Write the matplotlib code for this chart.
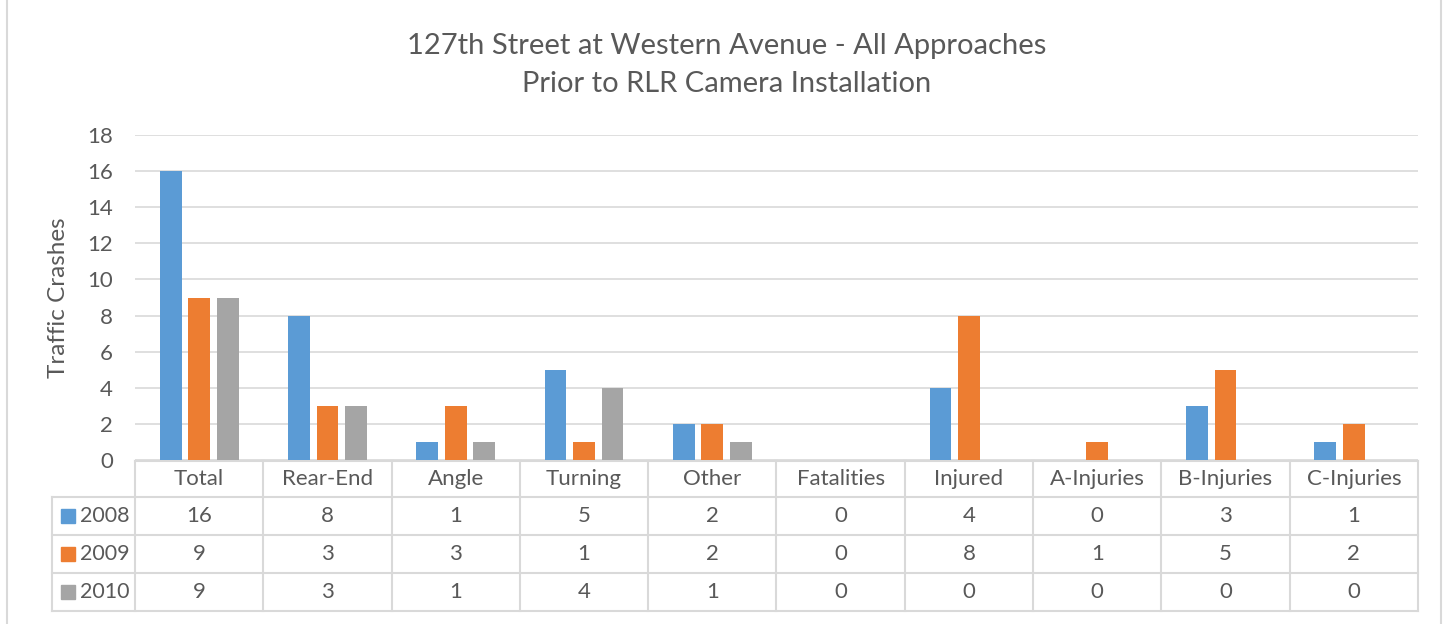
import numpy as np
import matplotlib.pyplot as plt
from matplotlib.lines import Line2D
from matplotlib.patches import Rectangle

categories = ["Total", "Rear-End", "Angle", "Turning", "Other", "Fatalities",
              "Injured", "A-Injuries", "B-Injuries", "C-Injuries"]
years = ["2008", "2009", "2010"]
crashes_2008 = [16, 8, 1, 5, 2, 0, 4, 0, 3, 1]
crashes_2009 = [9, 3, 3, 1, 2, 0, 8, 1, 5, 2]
crashes_2010 = [9, 3, 1, 4, 1, 0, 0, 0, 0, 0]
series = [crashes_2008, crashes_2009, crashes_2010]
colors = ["#5B9BD5", "#ED7D31", "#A5A5A5"]

W, H = 1450, 624
TXT = "#595959"
GRID = "#D9D9D9"
FS = 16
plt.rcParams['font.family'] = ['Lato', 'DejaVu Sans']

fig = plt.figure(figsize=(W / 100, H / 100), dpi=100)

# plot area in pixels
left, right, top, bottom = 135, 1418, 135, 460
ax = fig.add_axes([left / W, 1 - bottom / H, (right - left) / W, (bottom - top) / H])

x = np.arange(len(categories))
bar_w = 0.17
step = 0.222
for i, (vals, c) in enumerate(zip(series, colors)):
    ax.bar(x + (i - 1) * step, vals, width=bar_w, color=c, zorder=3)

ax.set_xlim(-0.5, len(categories) - 0.5)
ax.set_ylim(0, 18)
ax.set_yticks(np.arange(0, 19, 2))
ax.yaxis.grid(True, color=GRID, linewidth=1.2, zorder=0)
ax.set_xticks([])
for s in ax.spines.values():
    s.set_visible(False)
ax.tick_params(axis='y', length=0, labelsize=FS, labelcolor=TXT, pad=16)
ax.set_ylabel("Traffic Crashes", fontsize=17.5, color=TXT, labelpad=13)

# data table below the axis
trans = ax.get_xaxis_transform()
ph = bottom - top
def ay(py):
    return (bottom - py) / ph

row_y = [461, 497, 535, 573, 611]
col_edges = np.arange(len(categories) + 1) - 0.5
colw = (right - left) / len(categories)
label_left = -0.5 - (135 - 52) / colw

# horizontal lines
ax.add_line(Line2D([col_edges[0], col_edges[-1]], [ay(row_y[0])] * 2,
                   transform=trans, color=GRID, lw=1.5, clip_on=False))
for yy in row_y[1:]:
    ax.add_line(Line2D([label_left, col_edges[-1]], [ay(yy)] * 2,
                       transform=trans, color=GRID, lw=1.5, clip_on=False))
# vertical lines
for xe in col_edges:
    ax.add_line(Line2D([xe, xe], [ay(row_y[0]), ay(row_y[-1])],
                       transform=trans, color=GRID, lw=1.5, clip_on=False))
ax.add_line(Line2D([label_left, label_left], [ay(row_y[1]), ay(row_y[-1])],
                   transform=trans, color=GRID, lw=1.5, clip_on=False))

# header row (categories)
for xi, cat in zip(x, categories):
    ax.text(xi, ay((row_y[0] + row_y[1]) / 2), cat, transform=trans,
            ha='center', va='center', fontsize=FS, color=TXT)

# value rows with legend keys
for r, (yr, vals, c) in enumerate(zip(years, series, colors)):
    yc = ay((row_y[r + 1] + row_y[r + 2]) / 2)
    for xi, v in zip(x, vals):
        ax.text(xi, yc, str(v), transform=trans, ha='center', va='center',
                fontsize=FS, color=TXT)
    kx = label_left + 9 / colw
    ax.add_patch(Rectangle((kx, yc - 7 / ph), 14 / colw, 14 / ph,
                           transform=trans, color=c, clip_on=False))
    ax.text(label_left + 28 / colw, yc, yr, transform=trans, ha='left',
            va='center', fontsize=15.5, color=TXT)

# title
fig.text(727 / W, 1 - 46 / H, "127th Street at Western Avenue - All Approaches",
         ha='center', va='center', fontsize=21, color=TXT)
fig.text(727 / W, 1 - 84 / H, "Prior to RLR Camera Installation",
         ha='center', va='center', fontsize=21, color=TXT)

# chart border
for bx in (7, 1441):
    fig.add_artist(Line2D([bx / W, bx / W], [0, 1], color=GRID, lw=1.5))

fig.savefig("out.png", dpi=100)
